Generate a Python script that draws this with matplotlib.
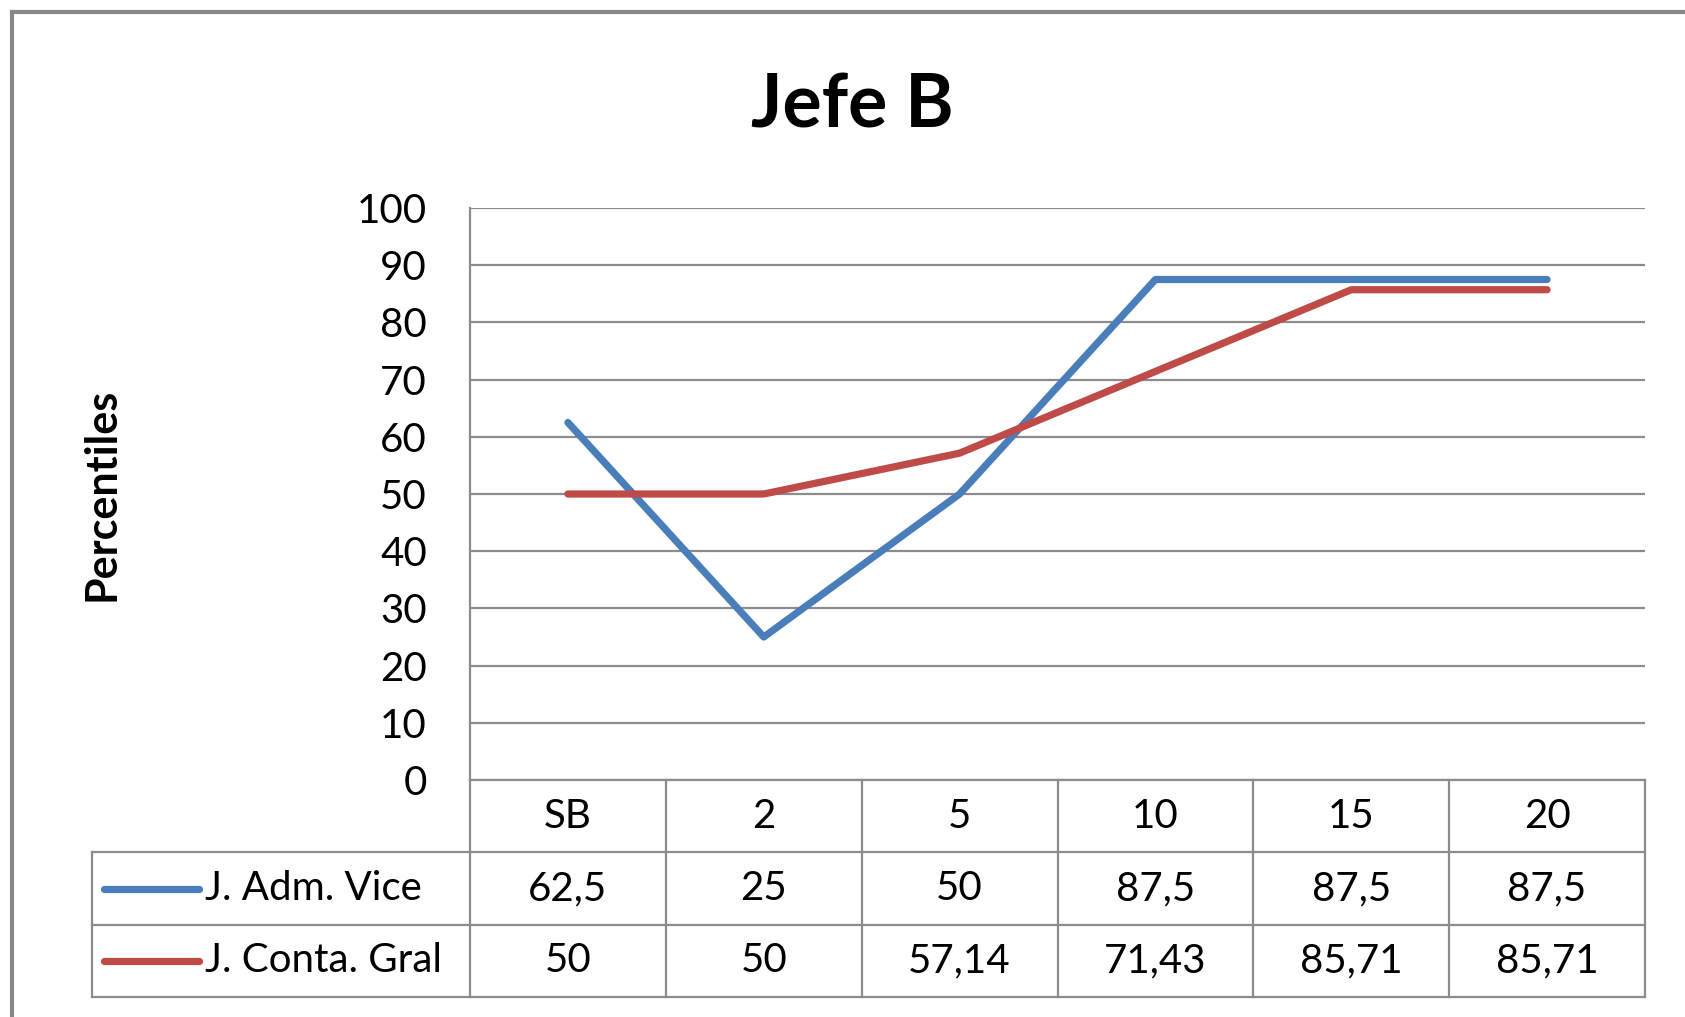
import matplotlib.pyplot as plt
from matplotlib.lines import Line2D

categories = ['SB', '2', '5', '10', '15', '20']
series_names = ['J. Adm. Vice', 'J. Conta. Gral']
adm_vice = [62.5, 25, 50, 87.5, 87.5, 87.5]
conta_gral = [50, 50, 57.14, 71.43, 85.71, 85.71]
y_ticks = [0, 10, 20, 30, 40, 50, 60, 70, 80, 90, 100]

colors = ['#4A7EBB', '#BE4B48']
grid_col = '#8C8C8C'
font = 'Lato'
fs = 29

W, H = 1685, 1017
fig = plt.figure(figsize=(W / 100, H / 100), dpi=100)
fig.patch.set_facecolor('white')

# pixel helpers (origin top-left)
def fx(px):
    return px / W

def fy(py):
    return 1 - py / H

left, right, top, bottom = 470, 1645, 208, 780
ax = fig.add_axes([fx(left), fy(bottom), fx(right) - fx(left), fy(top) - fy(bottom)])

n = len(categories)
xs = list(range(n))
for vals, c in zip([adm_vice, conta_gral], colors):
    ax.plot(xs, vals, color=c, lw=5.2, solid_capstyle='round', solid_joinstyle='round', zorder=3)

ax.set_xlim(-0.5, n - 0.5)
ax.set_ylim(0, 100)
ax.set_yticks(y_ticks)
ax.set_yticklabels([str(t) for t in y_ticks], fontsize=fs, family=font)
ax.tick_params(axis='y', length=0, pad=31)
ax.set_xticks([])
ax.grid(axis='y', color=grid_col, lw=1.6)
ax.set_axisbelow(True)
for s in ['top', 'right', 'bottom']:
    ax.spines[s].set_visible(False)
ax.spines['left'].set_color(grid_col)
ax.spines['left'].set_linewidth(1.6)

fig.text(fx(852), fy(106), 'Jefe B', ha='center', va='center', fontsize=53,
         fontweight='bold', family=font)
fig.text(fx(102), fy(494), 'Percentiles', ha='center', va='center', rotation=90,
         fontsize=31, fontweight='bold', family=font)

# data table below the plot
row_y = [780, 852, 925, 997]
tbl_left = 92
col_w = (right - left) / n
col_x = [left + i * col_w for i in range(n + 1)]

def hline(y, x0, x1, lw=1.6, c=grid_col):
    fig.add_artist(Line2D([fx(x0), fx(x1)], [fy(y), fy(y)], color=c, lw=lw))

def vline(x, y0, y1, lw=1.6, c=grid_col):
    fig.add_artist(Line2D([fx(x), fx(x)], [fy(y0), fy(y1)], color=c, lw=lw))

hline(row_y[0], left, right)
for y in row_y[1:]:
    hline(y, tbl_left, right)
vline(tbl_left, row_y[1], row_y[3])
vline(left, row_y[0], row_y[3])
for x in col_x[1:]:
    vline(x, row_y[0], row_y[3])

def fmt(v):
    return ('%g' % v).replace('.', ',')

hdr_y = (row_y[0] + row_y[1]) / 2
for i, cat in enumerate(categories):
    fig.text(fx(left + (i + 0.5) * col_w), fy(hdr_y), cat, ha='center', va='center',
             fontsize=fs, family=font)

for r, (name, vals, c) in enumerate(zip(series_names, [adm_vice, conta_gral], colors)):
    yc = (row_y[r + 1] + row_y[r + 2]) / 2
    fig.add_artist(Line2D([fx(104), fx(199)], [fy(yc), fy(yc)], color=c, lw=5.2,
                          solid_capstyle='round'))
    fig.text(fx(205), fy(yc), name, ha='left', va='center', fontsize=fs, family=font)
    for i, v in enumerate(vals):
        fig.text(fx(left + (i + 0.5) * col_w), fy(yc), fmt(v), ha='center', va='center',
                 fontsize=fs, family=font)

# outer chart frame (top and left visible)
fig.add_artist(Line2D([fx(12), fx(W)], [fy(12), fy(12)], color='#868686', lw=3))
fig.add_artist(Line2D([fx(12), fx(12)], [fy(12), fy(H)], color='#868686', lw=3))

fig.savefig('out.png', dpi=100)
